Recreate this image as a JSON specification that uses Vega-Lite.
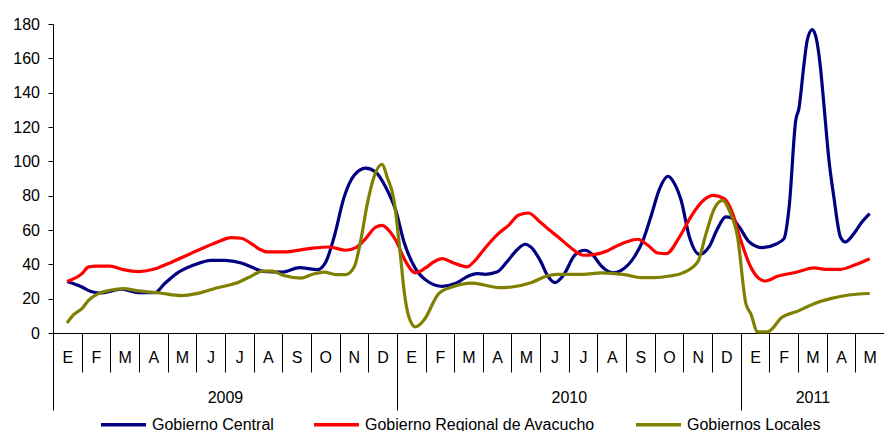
{
  "$schema": "https://vega.github.io/schema/vega-lite/v6.json",
  "width": 831,
  "height": 309,
  "autosize": {"type": "none"},
  "padding": {"left": 53, "top": 24, "right": 0, "bottom": 98},
  "background": "white",
  "config": {
    "view": {"stroke": null},
    "font": "Liberation Sans",
    "axis": {"labelFont": "Liberation Sans", "labelFontSize": 16, "labelColor": "#000", "domainColor": "#000", "tickColor": "#000", "grid": false, "title": null},
    "legend": {"labelFont": "Liberation Sans", "labelFontSize": 16, "labelColor": "#000"}
  },
  "datasets": {
    "d": [
      {"serie": "Gobierno Central", "t": 0.49, "v": 30},
      {"serie": "Gobierno Central", "t": 1.01, "v": 26.8},
      {"serie": "Gobierno Central", "t": 1.3, "v": 24.3},
      {"serie": "Gobierno Central", "t": 1.64, "v": 23.3},
      {"serie": "Gobierno Central", "t": 2.4, "v": 25.5},
      {"serie": "Gobierno Central", "t": 2.98, "v": 23.5},
      {"serie": "Gobierno Central", "t": 3.56, "v": 23.5},
      {"serie": "Gobierno Central", "t": 3.9, "v": 28.8},
      {"serie": "Gobierno Central", "t": 4.31, "v": 34.6},
      {"serie": "Gobierno Central", "t": 4.89, "v": 39.4},
      {"serie": "Gobierno Central", "t": 5.53, "v": 42.3},
      {"serie": "Gobierno Central", "t": 5.99, "v": 42.3},
      {"serie": "Gobierno Central", "t": 6.57, "v": 40.8},
      {"serie": "Gobierno Central", "t": 6.97, "v": 38.1},
      {"serie": "Gobierno Central", "t": 7.32, "v": 35.9},
      {"serie": "Gobierno Central", "t": 8.02, "v": 35.5},
      {"serie": "Gobierno Central", "t": 8.6, "v": 38.1},
      {"serie": "Gobierno Central", "t": 9.23, "v": 36.9},
      {"serie": "Gobierno Central", "t": 9.52, "v": 41.4},
      {"serie": "Gobierno Central", "t": 9.81, "v": 55.9},
      {"serie": "Gobierno Central", "t": 10.16, "v": 79.2},
      {"serie": "Gobierno Central", "t": 10.51, "v": 91.9},
      {"serie": "Gobierno Central", "t": 10.91, "v": 96.1},
      {"serie": "Gobierno Central", "t": 11.26, "v": 93.8},
      {"serie": "Gobierno Central", "t": 11.61, "v": 85},
      {"serie": "Gobierno Central", "t": 11.96, "v": 71.5},
      {"serie": "Gobierno Central", "t": 12.25, "v": 53},
      {"serie": "Gobierno Central", "t": 12.65, "v": 37.5},
      {"serie": "Gobierno Central", "t": 13.11, "v": 29.7},
      {"serie": "Gobierno Central", "t": 13.58, "v": 27.2},
      {"serie": "Gobierno Central", "t": 14.04, "v": 28.8},
      {"serie": "Gobierno Central", "t": 14.5, "v": 33.2},
      {"serie": "Gobierno Central", "t": 14.79, "v": 34.6},
      {"serie": "Gobierno Central", "t": 15.09, "v": 34.2},
      {"serie": "Gobierno Central", "t": 15.49, "v": 35.5},
      {"serie": "Gobierno Central", "t": 15.84, "v": 41.4},
      {"serie": "Gobierno Central", "t": 16.18, "v": 48.2},
      {"serie": "Gobierno Central", "t": 16.48, "v": 51.7},
      {"serie": "Gobierno Central", "t": 16.7, "v": 49.7},
      {"serie": "Gobierno Central", "t": 17.0, "v": 42.3},
      {"serie": "Gobierno Central", "t": 17.29, "v": 32.6},
      {"serie": "Gobierno Central", "t": 17.52, "v": 29.4},
      {"serie": "Gobierno Central", "t": 17.81, "v": 33.6},
      {"serie": "Gobierno Central", "t": 18.21, "v": 45.3},
      {"serie": "Gobierno Central", "t": 18.56, "v": 48.2},
      {"serie": "Gobierno Central", "t": 18.85, "v": 45.3},
      {"serie": "Gobierno Central", "t": 19.14, "v": 38.9},
      {"serie": "Gobierno Central", "t": 19.55, "v": 35},
      {"serie": "Gobierno Central", "t": 19.83, "v": 36.5},
      {"serie": "Gobierno Central", "t": 20.3, "v": 44.7},
      {"serie": "Gobierno Central", "t": 20.59, "v": 54},
      {"serie": "Gobierno Central", "t": 20.88, "v": 68.6},
      {"serie": "Gobierno Central", "t": 21.17, "v": 84.1},
      {"serie": "Gobierno Central", "t": 21.46, "v": 91.3},
      {"serie": "Gobierno Central", "t": 21.69, "v": 87},
      {"serie": "Gobierno Central", "t": 21.92, "v": 77.3},
      {"serie": "Gobierno Central", "t": 22.21, "v": 55.9},
      {"serie": "Gobierno Central", "t": 22.56, "v": 45.8},
      {"serie": "Gobierno Central", "t": 22.91, "v": 50.6},
      {"serie": "Gobierno Central", "t": 23.19, "v": 60.8},
      {"serie": "Gobierno Central", "t": 23.48, "v": 67.6},
      {"serie": "Gobierno Central", "t": 23.66, "v": 67.2},
      {"serie": "Gobierno Central", "t": 23.95, "v": 61.7},
      {"serie": "Gobierno Central", "t": 24.3, "v": 53},
      {"serie": "Gobierno Central", "t": 24.76, "v": 49.7},
      {"serie": "Gobierno Central", "t": 25.22, "v": 51.7},
      {"serie": "Gobierno Central", "t": 25.51, "v": 55},
      {"serie": "Gobierno Central", "t": 25.69, "v": 73.4},
      {"serie": "Gobierno Central", "t": 25.92, "v": 123.9},
      {"serie": "Gobierno Central", "t": 26.03, "v": 130.7},
      {"serie": "Gobierno Central", "t": 26.21, "v": 156.9},
      {"serie": "Gobierno Central", "t": 26.32, "v": 170.5},
      {"serie": "Gobierno Central", "t": 26.5, "v": 176.7},
      {"serie": "Gobierno Central", "t": 26.65, "v": 170.5},
      {"serie": "Gobierno Central", "t": 26.78, "v": 155},
      {"serie": "Gobierno Central", "t": 26.9, "v": 133.6},
      {"serie": "Gobierno Central", "t": 27.08, "v": 100.6},
      {"serie": "Gobierno Central", "t": 27.25, "v": 79.2},
      {"serie": "Gobierno Central", "t": 27.48, "v": 55.9},
      {"serie": "Gobierno Central", "t": 27.65, "v": 53},
      {"serie": "Gobierno Central", "t": 27.95, "v": 57.9},
      {"serie": "Gobierno Central", "t": 28.23, "v": 64.7},
      {"serie": "Gobierno Central", "t": 28.5, "v": 69.6},

      {"serie": "Gobierno Regional de Avacucho", "t": 0.49, "v": 30},
      {"serie": "Gobierno Regional de Avacucho", "t": 1.01, "v": 34.6},
      {"serie": "Gobierno Regional de Avacucho", "t": 1.24, "v": 38.5},
      {"serie": "Gobierno Regional de Avacucho", "t": 1.53, "v": 39},
      {"serie": "Gobierno Regional de Avacucho", "t": 1.99, "v": 38.9},
      {"serie": "Gobierno Regional de Avacucho", "t": 2.45, "v": 36.9},
      {"serie": "Gobierno Regional de Avacucho", "t": 2.98, "v": 35.8},
      {"serie": "Gobierno Regional de Avacucho", "t": 3.5, "v": 37.1},
      {"serie": "Gobierno Regional de Avacucho", "t": 3.96, "v": 40},
      {"serie": "Gobierno Regional de Avacucho", "t": 4.54, "v": 44.3},
      {"serie": "Gobierno Regional de Avacucho", "t": 5.12, "v": 48.6},
      {"serie": "Gobierno Regional de Avacucho", "t": 5.7, "v": 52.7},
      {"serie": "Gobierno Regional de Avacucho", "t": 6.22, "v": 55.6},
      {"serie": "Gobierno Regional de Avacucho", "t": 6.57, "v": 55.2},
      {"serie": "Gobierno Regional de Avacucho", "t": 6.92, "v": 52.1},
      {"serie": "Gobierno Regional de Avacucho", "t": 7.21, "v": 48.8},
      {"serie": "Gobierno Regional de Avacucho", "t": 7.49, "v": 47.2},
      {"serie": "Gobierno Regional de Avacucho", "t": 8.07, "v": 47.2},
      {"serie": "Gobierno Regional de Avacucho", "t": 8.94, "v": 49.2},
      {"serie": "Gobierno Regional de Avacucho", "t": 9.64, "v": 50.1},
      {"serie": "Gobierno Regional de Avacucho", "t": 10.22, "v": 48.2},
      {"serie": "Gobierno Regional de Avacucho", "t": 10.57, "v": 49.7},
      {"serie": "Gobierno Regional de Avacucho", "t": 10.91, "v": 55},
      {"serie": "Gobierno Regional de Avacucho", "t": 11.26, "v": 61.7},
      {"serie": "Gobierno Regional de Avacucho", "t": 11.49, "v": 62.7},
      {"serie": "Gobierno Regional de Avacucho", "t": 11.66, "v": 60.8},
      {"serie": "Gobierno Regional de Avacucho", "t": 11.96, "v": 54},
      {"serie": "Gobierno Regional de Avacucho", "t": 12.3, "v": 41.9},
      {"serie": "Gobierno Regional de Avacucho", "t": 12.65, "v": 35},
      {"serie": "Gobierno Regional de Avacucho", "t": 13.0, "v": 37.9},
      {"serie": "Gobierno Regional de Avacucho", "t": 13.29, "v": 41.4},
      {"serie": "Gobierno Regional de Avacucho", "t": 13.58, "v": 43.3},
      {"serie": "Gobierno Regional de Avacucho", "t": 13.98, "v": 40.8},
      {"serie": "Gobierno Regional de Avacucho", "t": 14.45, "v": 38.5},
      {"serie": "Gobierno Regional de Avacucho", "t": 14.68, "v": 41.4},
      {"serie": "Gobierno Regional de Avacucho", "t": 15.09, "v": 49.7},
      {"serie": "Gobierno Regional de Avacucho", "t": 15.55, "v": 58},
      {"serie": "Gobierno Regional de Avacucho", "t": 15.9, "v": 62.7},
      {"serie": "Gobierno Regional de Avacucho", "t": 16.24, "v": 68.6},
      {"serie": "Gobierno Regional de Avacucho", "t": 16.59, "v": 69.9},
      {"serie": "Gobierno Regional de Avacucho", "t": 16.94, "v": 65.6},
      {"serie": "Gobierno Regional de Avacucho", "t": 17.29, "v": 60.4},
      {"serie": "Gobierno Regional de Avacucho", "t": 17.63, "v": 55.9},
      {"serie": "Gobierno Regional de Avacucho", "t": 18.04, "v": 50.1},
      {"serie": "Gobierno Regional de Avacucho", "t": 18.5, "v": 45.3},
      {"serie": "Gobierno Regional de Avacucho", "t": 18.91, "v": 45.8},
      {"serie": "Gobierno Regional de Avacucho", "t": 19.31, "v": 47.6},
      {"serie": "Gobierno Regional de Avacucho", "t": 19.6, "v": 50.1},
      {"serie": "Gobierno Regional de Avacucho", "t": 20.01, "v": 53},
      {"serie": "Gobierno Regional de Avacucho", "t": 20.41, "v": 54.6},
      {"serie": "Gobierno Regional de Avacucho", "t": 20.76, "v": 51.1},
      {"serie": "Gobierno Regional de Avacucho", "t": 21.11, "v": 46.6},
      {"serie": "Gobierno Regional de Avacucho", "t": 21.4, "v": 46.2},
      {"serie": "Gobierno Regional de Avacucho", "t": 21.86, "v": 55.9},
      {"serie": "Gobierno Regional de Avacucho", "t": 22.27, "v": 68},
      {"serie": "Gobierno Regional de Avacucho", "t": 22.73, "v": 77.7},
      {"serie": "Gobierno Regional de Avacucho", "t": 23.02, "v": 80.2},
      {"serie": "Gobierno Regional de Avacucho", "t": 23.43, "v": 78.3},
      {"serie": "Gobierno Regional de Avacucho", "t": 23.72, "v": 69.6},
      {"serie": "Gobierno Regional de Avacucho", "t": 24.0, "v": 54},
      {"serie": "Gobierno Regional de Avacucho", "t": 24.35, "v": 38.4},
      {"serie": "Gobierno Regional de Avacucho", "t": 24.64, "v": 31.7},
      {"serie": "Gobierno Regional de Avacucho", "t": 24.87, "v": 30.3},
      {"serie": "Gobierno Regional de Avacucho", "t": 25.28, "v": 33},
      {"serie": "Gobierno Regional de Avacucho", "t": 25.97, "v": 35.5},
      {"serie": "Gobierno Regional de Avacucho", "t": 26.56, "v": 37.9},
      {"serie": "Gobierno Regional de Avacucho", "t": 26.96, "v": 37.1},
      {"serie": "Gobierno Regional de Avacucho", "t": 27.48, "v": 37.1},
      {"serie": "Gobierno Regional de Avacucho", "t": 27.95, "v": 39.4},
      {"serie": "Gobierno Regional de Avacucho", "t": 28.5, "v": 43.3},

      {"serie": "Gobiernos Locales", "t": 0.49, "v": 5.8},
      {"serie": "Gobiernos Locales", "t": 0.72, "v": 10.7},
      {"serie": "Gobiernos Locales", "t": 1.01, "v": 14.2},
      {"serie": "Gobiernos Locales", "t": 1.24, "v": 19},
      {"serie": "Gobiernos Locales", "t": 1.58, "v": 22.9},
      {"serie": "Gobiernos Locales", "t": 1.99, "v": 24.9},
      {"serie": "Gobiernos Locales", "t": 2.45, "v": 25.9},
      {"serie": "Gobiernos Locales", "t": 2.98, "v": 24.5},
      {"serie": "Gobiernos Locales", "t": 3.73, "v": 23.3},
      {"serie": "Gobiernos Locales", "t": 4.48, "v": 21.8},
      {"serie": "Gobiernos Locales", "t": 5.01, "v": 22.9},
      {"serie": "Gobiernos Locales", "t": 5.7, "v": 26.2},
      {"serie": "Gobiernos Locales", "t": 6.45, "v": 29.4},
      {"serie": "Gobiernos Locales", "t": 6.86, "v": 32.6},
      {"serie": "Gobiernos Locales", "t": 7.32, "v": 36.1},
      {"serie": "Gobiernos Locales", "t": 7.67, "v": 36.1},
      {"serie": "Gobiernos Locales", "t": 8.02, "v": 33.6},
      {"serie": "Gobiernos Locales", "t": 8.65, "v": 32},
      {"serie": "Gobiernos Locales", "t": 9.06, "v": 34.2},
      {"serie": "Gobiernos Locales", "t": 9.46, "v": 35.5},
      {"serie": "Gobiernos Locales", "t": 9.87, "v": 34},
      {"serie": "Gobiernos Locales", "t": 10.22, "v": 34},
      {"serie": "Gobiernos Locales", "t": 10.51, "v": 38.4},
      {"serie": "Gobiernos Locales", "t": 10.74, "v": 54},
      {"serie": "Gobiernos Locales", "t": 10.97, "v": 75.4},
      {"serie": "Gobiernos Locales", "t": 11.2, "v": 90.9},
      {"serie": "Gobiernos Locales", "t": 11.49, "v": 98.3},
      {"serie": "Gobiernos Locales", "t": 11.66, "v": 90.9},
      {"serie": "Gobiernos Locales", "t": 11.9, "v": 77.3},
      {"serie": "Gobiernos Locales", "t": 12.13, "v": 44.3},
      {"serie": "Gobiernos Locales", "t": 12.25, "v": 24.9},
      {"serie": "Gobiernos Locales", "t": 12.42, "v": 9.3},
      {"serie": "Gobiernos Locales", "t": 12.65, "v": 3.5},
      {"serie": "Gobiernos Locales", "t": 12.94, "v": 7.4},
      {"serie": "Gobiernos Locales", "t": 13.46, "v": 22.9},
      {"serie": "Gobiernos Locales", "t": 13.92, "v": 26.8},
      {"serie": "Gobiernos Locales", "t": 14.62, "v": 29.1},
      {"serie": "Gobiernos Locales", "t": 15.09, "v": 27.8},
      {"serie": "Gobiernos Locales", "t": 15.55, "v": 26.4},
      {"serie": "Gobiernos Locales", "t": 16.01, "v": 26.8},
      {"serie": "Gobiernos Locales", "t": 16.7, "v": 29.4},
      {"serie": "Gobiernos Locales", "t": 17.23, "v": 33.2},
      {"serie": "Gobiernos Locales", "t": 17.57, "v": 34.2},
      {"serie": "Gobiernos Locales", "t": 18.5, "v": 34.2},
      {"serie": "Gobiernos Locales", "t": 19.14, "v": 35},
      {"serie": "Gobiernos Locales", "t": 19.6, "v": 34.6},
      {"serie": "Gobiernos Locales", "t": 19.95, "v": 34},
      {"serie": "Gobiernos Locales", "t": 20.53, "v": 32.3},
      {"serie": "Gobiernos Locales", "t": 20.99, "v": 32.3},
      {"serie": "Gobiernos Locales", "t": 21.52, "v": 33.2},
      {"serie": "Gobiernos Locales", "t": 21.98, "v": 35},
      {"serie": "Gobiernos Locales", "t": 22.5, "v": 41.4},
      {"serie": "Gobiernos Locales", "t": 22.79, "v": 57.9},
      {"serie": "Gobiernos Locales", "t": 23.08, "v": 72.5},
      {"serie": "Gobiernos Locales", "t": 23.37, "v": 77.3},
      {"serie": "Gobiernos Locales", "t": 23.6, "v": 71.5},
      {"serie": "Gobiernos Locales", "t": 23.89, "v": 55.9},
      {"serie": "Gobiernos Locales", "t": 24.18, "v": 17.1},
      {"serie": "Gobiernos Locales", "t": 24.35, "v": 11.3},
      {"serie": "Gobiernos Locales", "t": 24.59, "v": 0.6},
      {"serie": "Gobiernos Locales", "t": 24.93, "v": 0.6},
      {"serie": "Gobiernos Locales", "t": 25.45, "v": 9.3},
      {"serie": "Gobiernos Locales", "t": 25.97, "v": 12.6},
      {"serie": "Gobiernos Locales", "t": 26.56, "v": 17.1},
      {"serie": "Gobiernos Locales", "t": 27.13, "v": 20},
      {"serie": "Gobiernos Locales", "t": 27.71, "v": 22},
      {"serie": "Gobiernos Locales", "t": 28.5, "v": 23}
    ]
  },
  "data": {"name": "d"},
  "layer": [
    {
      "mark": {"type": "line", "interpolate": "monotone", "strokeWidth": 3.2},
      "encoding": {
        "x": {
          "field": "t", "type": "quantitative",
          "scale": {"domain": [0, 29], "nice": false, "zero": false},
          "axis": {
            "orient": "bottom",
            "values": [0,1,2,3,4,5,6,7,8,9,10,11,12,13,14,15,16,17,18,19,20,21,22,23,24,25,26,27,28],
            "tickSize": 39,
            "labelExpr": "['E','F','M','A','M','J','J','A','S','O','N','D'][datum.value % 12]",
            "labelOffset": 14.3,
            "labelPadding": -15,
            "labelBaseline": "middle",
            "labelAlign": "center",
            "labelFlush": false,
            "labelOverlap": false
          }
        },
        "y": {
          "field": "v", "type": "quantitative",
          "scale": {"domain": [0, 180], "nice": false},
          "axis": {
            "values": [0,20,40,60,80,100,120,140,160,180],
            "tickSize": 5,
            "labelPadding": 8.5,
            "labelBaseline": "middle"
          }
        },
        "color": {
          "field": "serie", "type": "nominal",
          "scale": {
            "domain": ["Gobierno Central", "Gobierno Regional de Avacucho", "Gobiernos Locales"],
            "range": ["#000080", "#FF0000", "#808000"]
          },
          "legend": {
            "title": null,
            "orient": "none",
            "direction": "horizontal",
            "legendX": 46,
            "legendY": 376,
            "symbolType": "stroke",
            "symbolSize": 2025,
            "symbolStrokeWidth": 3.5,
            "columnPadding": 33,
            "labelOffset": 4,
            "labelLimit": 400
          }
        }
      }
    },
    {
      "mark": {"type": "point", "opacity": 0},
      "encoding": {
        "x": {
          "field": "t", "type": "quantitative",
          "scale": {"domain": [0, 29], "nice": false, "zero": false},
          "axis": {"orient": "bottom", "values": [0, 12, 24], "tickSize": 77, "labels": false, "domain": false}
        }
      }
    },
    {
      "mark": {"type": "point", "opacity": 0},
      "encoding": {
        "x": {
          "field": "t", "type": "quantitative",
          "scale": {"domain": [0, 29], "nice": false, "zero": false},
          "axis": {
            "orient": "bottom", "values": [6, 18, 26.5], "ticks": false, "domain": false,
            "labelExpr": "datum.value == 6 ? '2009' : datum.value == 18 ? '2010' : '2011'",
            "labelPadding": 64, "labelBaseline": "middle", "labelFlush": false, "labelOverlap": false
          }
        }
      }
    }
  ],
  "resolve": {"axis": {"x": "independent"}}
}
